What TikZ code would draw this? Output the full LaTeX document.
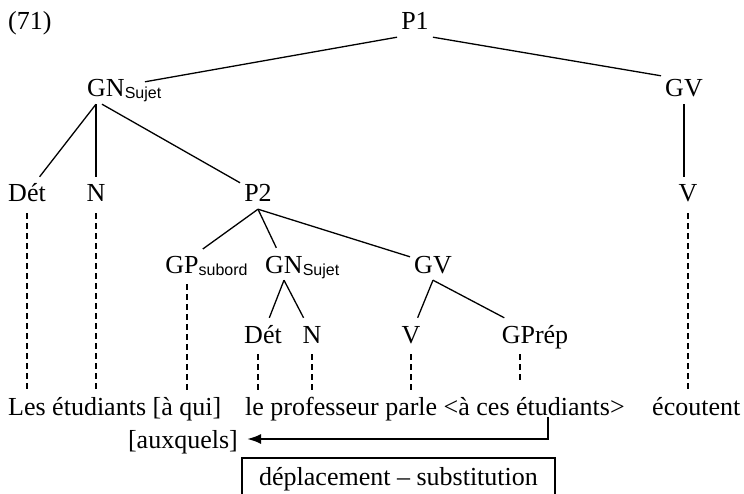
\documentclass[tikz,border=0pt]{standalone}
\usepackage{fontspec}
\setmainfont{Liberation Serif}
\newfontfamily\subfont{Liberation Sans}
\usetikzlibrary{arrows.meta}
\newcommand{\sbs}[1]{\rlap{\raisebox{-2pt}{\subfont\fontsize{16}{18}\selectfont #1}}}
\begin{document}
\begin{tikzpicture}[x=1pt,y=-1pt,
  mainfont/.style={font=\fontsize{26}{30}\selectfont},
  lbl/.style={mainfont, anchor=base, inner xsep=4pt, inner ysep=7pt, text height=18pt, text depth=0pt},
  word/.style={mainfont, anchor=base west, inner xsep=0pt, inner ysep=6pt, text height=18pt, text depth=6pt},
  edge/.style={line width=1.3pt},
  dsh/.style={line width=1.1pt, dash pattern=on 6pt off 4pt, shorten <=4pt},
  movearrow/.style={line width=2.2pt, -{Latex[length=14pt,width=10pt]}},
  labelbox/.style={mainfont, draw, line width=1.2pt, minimum width=313pt, inner xsep=0pt, inner ysep=9pt, text height=18pt, text depth=14pt, anchor=base}
  ]
\fill[white] (0,0) rectangle (744,494);
\useasboundingbox (0,0) rectangle (744,494);

% nodes
\node[lbl, anchor=base west, inner xsep=0pt] (ex) at (8,30) {(71)};
\node[lbl] (P1) at (415,30) {P1};
\node[lbl] (GN1) at (106,97) {GN\sbs{Sujet}};
\node[lbl] (GV1) at (684,97) {GV};
\node[lbl] (D1) at (27,202) {Dét};
\node[lbl] (N1) at (96,202) {N};
\node[lbl] (P2) at (258,202) {P2};
\node[lbl] (V1) at (688,202) {V};
\node[lbl] (GPs) at (182,273) {GP\sbs{subord}};
\node[lbl] (GN2) at (284,273) {GN\sbs{Sujet}};
\node[lbl] (GV2) at (433,273) {GV};
\node[lbl] (D2) at (263,343) {Dét};
\node[lbl] (N2) at (312,343) {N};
\node[lbl] (V2) at (411,343) {V};
\node[lbl] (GPr) at (535,343) {GPrép};
\node[word] (L1) at (8,415) {Les étudiants [à qui]};
\node[word] (L2) at (245,415) {le professeur parle <à ces étudiants>};
\node[word] (L3) at (652,415) {écoutent};
\node[lbl, anchor=base east, inner xsep=0pt] (aux) at (238,448) {[auxquels]};
\node[labelbox] (box) at (398.5,485) {déplacement – substitution};
\coordinate (src) at (548,417);

% tree edges
\draw[edge] (P1.south west) -- ([xshift=16pt,yshift=-10pt]GN1.north east);
\draw[edge] (P1.south east) -- ([yshift=-4pt]GV1.north west);
\draw[edge] ([xshift=-10pt]GN1.south) -- (D1);
\draw[edge] ([xshift=-10pt]GN1.south) -- (N1);
\draw[edge] ([xshift=-4pt]GN1.south) -- (P2);
\draw[edge] (GV1.south) -- (GV1.south |- V1.north);
\draw[edge] (P2.south) -- (GPs);
\draw[edge] (P2.south) -- (GN2);
\draw[edge] (P2.south) -- (GV2);
\draw[edge] (GN2.south) -- (D2);
\draw[edge] (GN2.south) -- (N2);
\draw[edge] (GV2.south) -- (V2);
\draw[edge] (GV2.south) -- (GPr);

% dashed links to words
\draw[dsh] (D1.south) -- (D1.south |- L1.north);
\draw[dsh] (N1.south) -- (N1.south |- L1.north);
\draw[dsh] ([xshift=5pt]GPs.south) -- ([xshift=5pt]GPs.south |- L1.north);
\draw[dsh] ([xshift=-5pt]D2.south) -- ([xshift=-5pt]D2.south |- L1.north);
\draw[dsh] (N2.south) -- (N2.south |- L1.north);
\draw[dsh] (V2.south) -- (V2.south |- L1.north);
\draw[dsh, shorten >=9pt] ([xshift=-15pt]GPr.south) -- ([xshift=-15pt]GPr.south |- L1.north);
\draw[dsh] (V1.south) -- (V1.south |- L1.north);

% movement arrow
\draw[movearrow] (src) |- ([xshift=9pt,yshift=9pt]aux.base east);
\end{tikzpicture}
\end{document}
